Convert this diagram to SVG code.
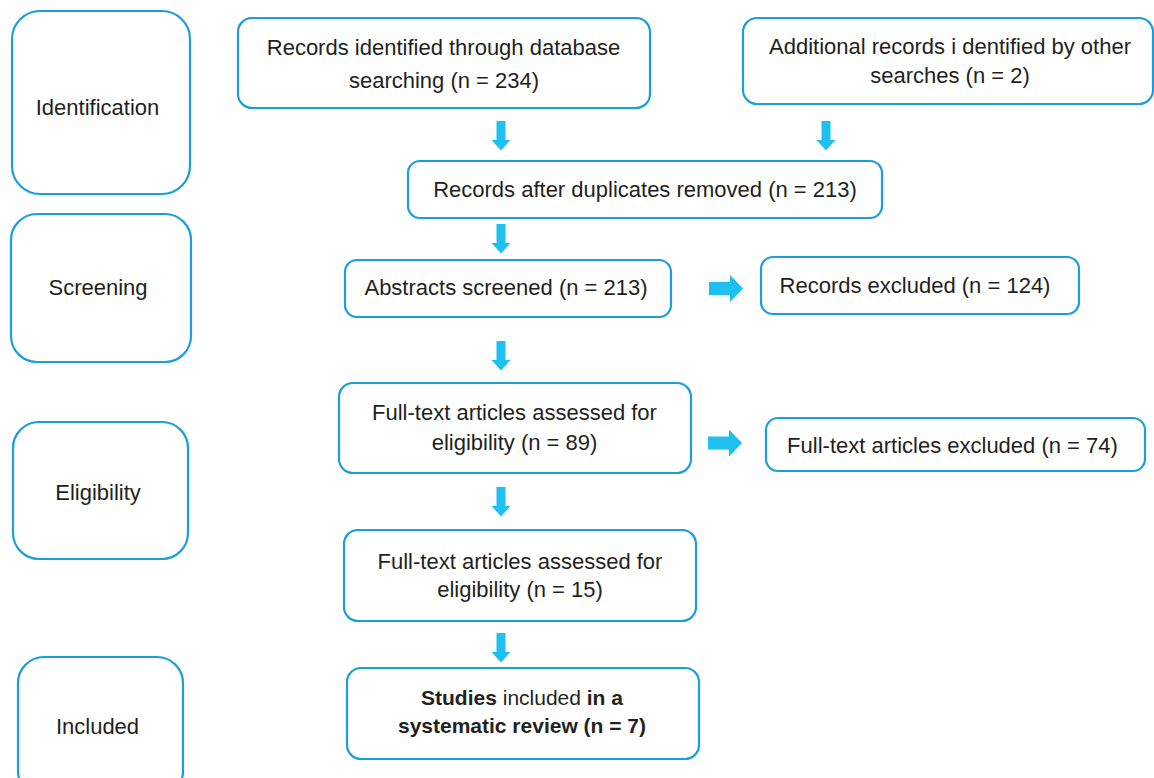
<svg xmlns="http://www.w3.org/2000/svg" xmlns:xlink="http://www.w3.org/1999/xlink" width="1154" height="778" viewBox="0 0 1154 778">
<defs>
<style>
.box{fill:#ffffff;stroke:#1a9fdc;stroke-width:2.2}
.t{font-family:"Liberation Sans",Arial,sans-serif;font-size:22px;fill:#231f20;text-anchor:middle}
.b{font-weight:bold}
.arr{fill:#1ec0f2}
</style>
<path id="va" d="M-4.5,0 H4.5 V19 H9.5 L0,29.5 L-9.5,19 H-4.5 Z"/>
<path id="ha" d="M0,-6.5 H21 V-13.5 L34,0 L21,13.5 V6.5 H0 Z"/>
</defs>
<rect width="1154" height="778" fill="#ffffff"/>
<g id="stage-identification">
<rect class="box" x="12" y="11" width="178" height="183" rx="28"/>
<text class="t" x="97.5" y="115">Identification</text>
</g>
<g id="stage-screening">
<rect class="box" x="11" y="214" width="180" height="148" rx="26"/>
<text class="t" x="98" y="295">Screening</text>
</g>
<g id="stage-eligibility">
<rect class="box" x="13" y="422" width="175" height="137" rx="26"/>
<text class="t" x="98" y="500">Eligibility</text>
</g>
<g id="stage-included">
<rect class="box" x="18" y="657" width="165" height="140" rx="26"/>
<text class="t" x="97.5" y="734">Included</text>
</g>
<g id="records-db">
<rect class="box" x="238" y="18" width="412" height="90" rx="14"/>
<text class="t" x="443.5" y="55">Records identified through database</text>
<text class="t" x="444" y="88">searching (n = 234)</text>
</g>
<g id="records-other">
<rect class="box" x="743" y="18" width="410" height="86" rx="14"/>
<text class="t" x="950" y="54">Additional records i dentified by other</text>
<text class="t" x="950" y="83">searches (n = 2)</text>
</g>
<g id="dedup">
<rect class="box" x="408" y="161" width="474" height="57" rx="12"/>
<text class="t" x="645" y="197">Records after duplicates removed (n = 213)</text>
</g>
<g id="abstracts">
<rect class="box" x="345" y="260" width="326" height="57" rx="12"/>
<text class="t" x="506" y="295">Abstracts screened (n = 213)</text>
</g>
<g id="records-excluded">
<rect class="box" x="761" y="257" width="318" height="57" rx="12"/>
<text class="t" x="915" y="293">Records excluded (n = 124)</text>
</g>
<g id="fulltext-89">
<rect class="box" x="339" y="383" width="352" height="90" rx="14"/>
<text class="t" x="514.5" y="420">Full-text articles assessed for</text>
<text class="t" x="514.5" y="450">eligibility (n = 89)</text>
</g>
<g id="fulltext-excluded">
<rect class="box" x="766" y="418" width="379" height="53" rx="12"/>
<text class="t" x="952.5" y="453">Full-text articles excluded (n = 74)</text>
</g>
<g id="fulltext-15">
<rect class="box" x="344" y="530" width="352" height="91" rx="14"/>
<text class="t" x="520" y="569">Full-text articles assessed for</text>
<text class="t" x="520" y="597">eligibility (n = 15)</text>
</g>
<g id="included-studies">
<rect class="box" x="347" y="668" width="352" height="91" rx="14"/>
<text class="t" x="522" y="705" style="font-size:21px"><tspan class="b">Studies</tspan> included <tspan class="b">in a</tspan></text>
<text class="t b" x="522" y="733" style="font-size:21px">systematic review (n = 7)</text>
</g>
<g id="connectors" class="arr">
<use xlink:href="#va" x="501" y="121"/>
<use xlink:href="#va" x="826" y="121"/>
<use xlink:href="#va" x="501" y="224"/>
<use xlink:href="#va" x="501" y="341"/>
<use xlink:href="#va" x="501" y="487"/>
<use xlink:href="#va" x="501" y="633"/>
<use xlink:href="#ha" x="709" y="288.5"/>
<use xlink:href="#ha" x="708" y="443"/>
</g>
</svg>
